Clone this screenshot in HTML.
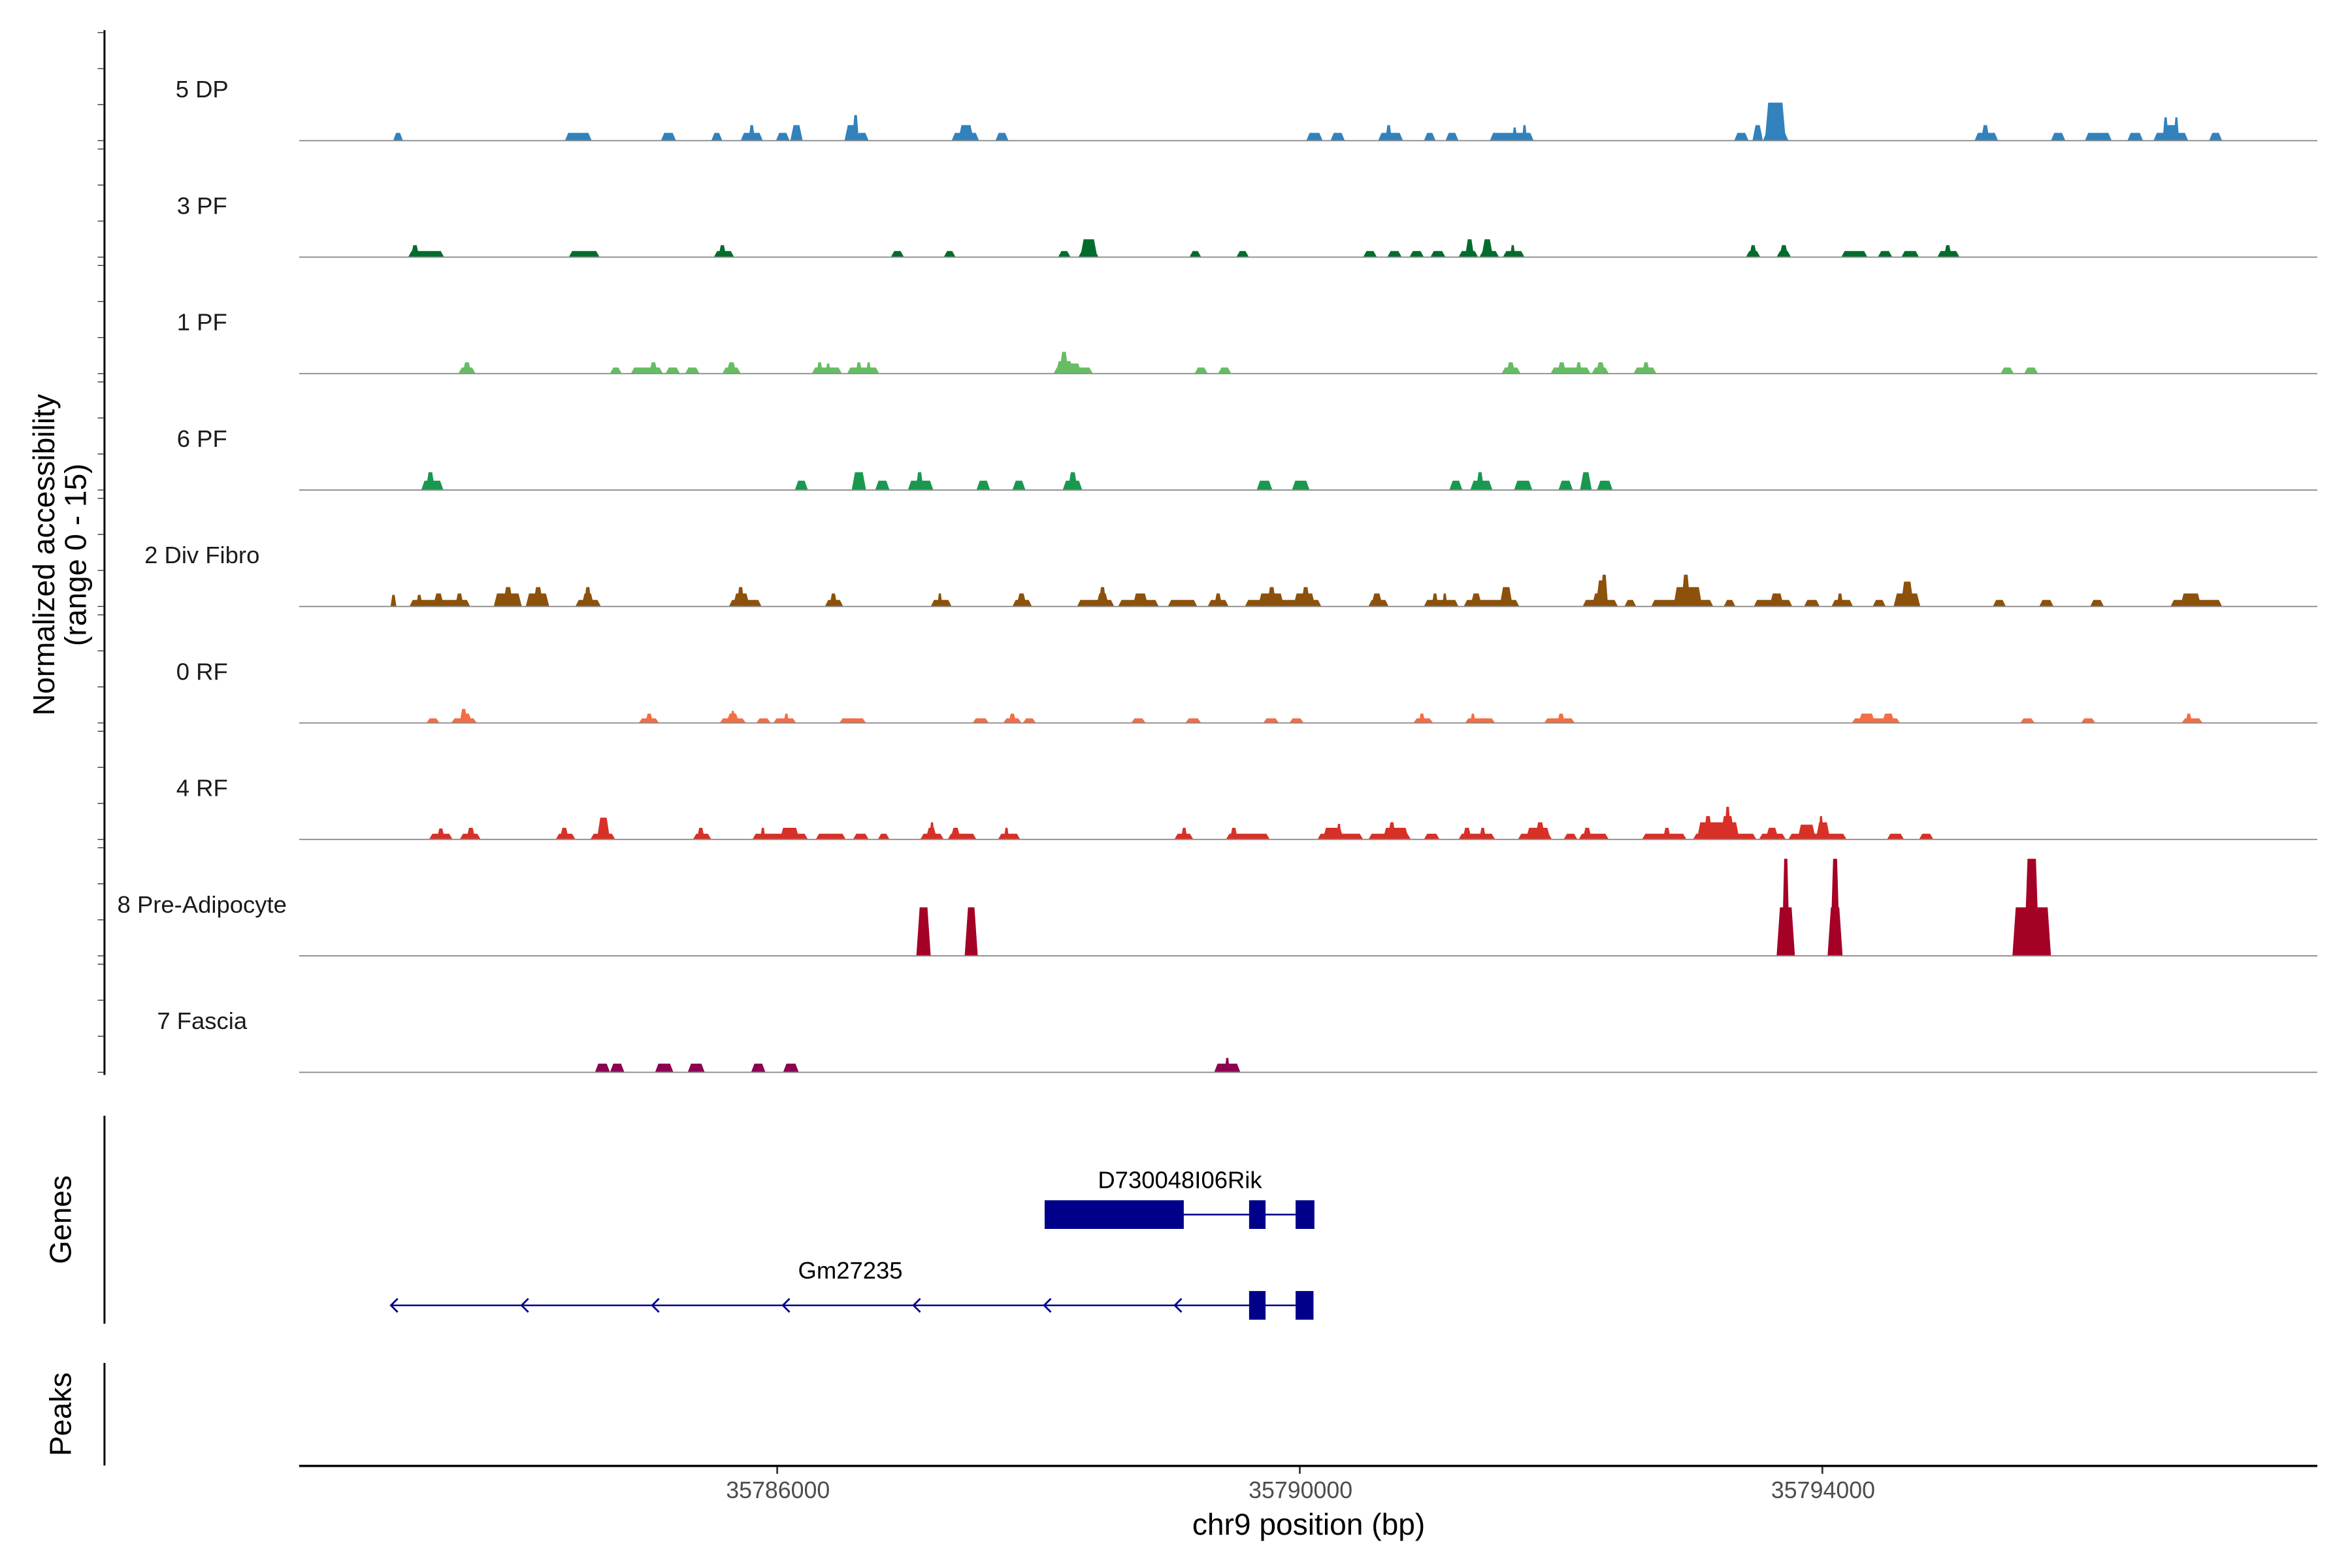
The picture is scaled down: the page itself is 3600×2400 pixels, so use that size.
<!DOCTYPE html>
<html><head><meta charset="utf-8"><style>
html,body{margin:0;padding:0;background:#fff;}
svg{display:block;font-family:"Liberation Sans",Arial,sans-serif;}
</style></head><body>
<svg id="chart" width="3600" height="2400" viewBox="0 0 1560 1040" xmlns="http://www.w3.org/2000/svg">
<g id="tracks"></g>
<g id="genes"></g>
<g id="axes"></g>
</svg>
<script>
const REGION0 = 35782000;
const trackNames = ["5 DP","3 PF","1 PF","6 PF","2 Div Fibro","0 RF","4 RF","8 Pre-Adipocyte","7 Fascia"];
const trackColors = ["#3182bd","#006d2c","#66bd63","#1a9850","#8c510a","#f46d43","#d73027","#a50026","#8e0152"];
// peaks: [start offset bp, end offset bp, value] relative to REGION0
const peaksDP = [[1060,1135,1],[2375,2580,1],[3110,3225,1],[3495,3580,1],[3720,3890,1],[3780,3830,2],[3990,4095,1],[4100,4195,2],[4515,4620,2],[4575,4625,3.3],[4600,4700,1],[5335,5545,1],[5385,5505,2],[5670,5770,1],[8050,8175,1],[8235,8345,1],[8600,8790,1],[8655,8705,2],[8950,9040,1],[9115,9215,1],[9455,9790,1],[9625,9665,1.7],[9700,9740,2],[11325,11435,1],[11465,11545,2],[11545,11740,1],[11560,11720,4.9],[13165,13345,1],[13215,13280,2],[13750,13860,1],[14010,14215,1],[14335,14455,1],[14535,14800,1],[14615,14740,2],[14605,14650,3],[14690,14730,3],[14960,15060,1]];
const peaks3PF = [[1175,1450,0.78],[1195,1260,1.54],[2405,2640,0.78],[3515,3670,0.78],[3550,3610,1.54],[4870,4970,0.78],[5275,5365,0.78],[6150,6245,0.78],[6305,6460,0.78],[6320,6450,2.3],[7155,7245,0.78],[7515,7610,0.78],[8485,8590,0.78],[8670,8780,0.78],[8840,8950,0.78],[9000,9115,0.78],[9215,9365,0.78],[9265,9335,2.3],[9375,9525,0.78],[9390,9480,2.3],[9555,9720,0.78],[9610,9650,1.54],[11415,11525,0.78],[11440,11500,1.54],[11650,11760,0.78],[11670,11740,1.54],[12145,12345,0.78],[12425,12535,0.78],[12605,12740,0.78],[12880,13050,0.78],[12930,12990,1.54]];
const peaks1PF = [[1560,1690,0.78],[1590,1660,1.46],[2720,2810,0.78],[2880,3125,0.78],[3020,3085,1.46],[3145,3255,0.78],[3295,3405,0.78],[3580,3720,0.78],[3610,3690,1.46],[4265,4495,0.78],[4300,4350,1.46],[4370,4410,1.3],[4535,4780,0.78],[4600,4650,1.46],[4680,4720,1.46],[6115,6415,0.78],[6130,6270,1.6],[6160,6230,2.8],[6190,6330,1.3],[7195,7295,0.78],[7375,7475,0.78],[9545,9690,0.78],[9580,9650,1.46],[9920,10225,0.78],[9970,10040,1.46],[10110,10160,1.46],[10235,10365,0.78],[10265,10340,1.46],[10555,10730,0.78],[10620,10680,1.46],[13365,13465,0.78],[13545,13650,0.78]];
const peaks6PF = [[1275,1445,1.2],[1310,1380,2.3],[4135,4235,1.2],[4570,4680,2.3],[4750,4860,1.2],[5000,5195,1.2],[5060,5120,2.3],[5525,5630,1.2],[5800,5900,1.2],[6185,6335,1.2],[6225,6300,2.3],[7670,7790,1.2],[7940,8075,1.2],[9145,9245,1.2],[9305,9475,1.2],[9350,9410,2.3],[9640,9780,1.2],[9980,10090,1.2],[10145,10235,2.3],[10275,10395,1.2]];
const peaksDivFibro = [[1040,1085,1.5],[1185,1650,0.84],[1235,1285,1.5],[1365,1450,1.68],[1535,1600,1.68],[1830,2045,1.68],[1900,1980,2.5],[2075,2255,1.68],[2130,2210,2.5],[2455,2650,0.84],[2500,2600,1.68],[2520,2580,2.5],[3630,3880,0.84],[3660,3790,1.68],[3690,3750,2.5],[4365,4505,0.84],[4400,4460,1.68],[5175,5335,0.84],[5225,5265,1.68],[5800,5950,0.84],[5830,5910,1.68],[6295,6580,0.84],[6440,6540,1.68],[6460,6520,2.5],[6610,6920,0.84],[6720,6840,1.68],[6990,7215,0.84],[7295,7455,0.84],[7345,7405,1.68],[7580,8165,0.84],[7680,7880,1.68],[7750,7820,2.5],[7950,8120,1.68],[8010,8080,2.5],[8525,8680,0.84],[8545,8635,1.68],[8950,9215,0.84],[9010,9060,1.68],[9090,9130,1.68],[9255,9680,0.84],[9305,9395,1.68],[9530,9630,2.5],[10165,10435,0.84],[10235,10355,1.68],[10265,10355,3.36],[10300,10360,4.1],[10485,10575,0.84],[10690,11165,0.84],[10860,11080,2.5],[10920,10990,4.1],[11245,11335,0.84],[11475,11770,0.84],[11595,11705,1.68],[11860,11980,0.84],[12070,12235,0.84],[12110,12160,1.68],[12385,12485,0.84],[12545,12750,1.68],[12600,12700,3.2],[13305,13405,0.84],[13660,13770,0.84],[14050,14155,0.84],[14665,15060,0.84],[14740,14900,1.68]];
const peaks0RF = [[1315,1415,0.59],[1505,1700,0.59],[1575,1665,1.2],[1570,1630,1.8],[2940,3095,0.59],[2990,3050,1.2],[3560,3760,0.59],[3610,3710,1.2],[3640,3680,1.55],[3840,3950,0.59],[3970,4145,0.59],[4050,4090,1.2],[4475,4680,0.59],[5495,5620,0.59],[5730,5870,0.59],[5770,5830,1.2],[5880,5980,0.59],[6710,6820,0.59],[7125,7245,0.59],[7720,7840,0.59],[7920,8030,0.59],[8870,9020,0.59],[8910,8960,1.2],[9265,9495,0.59],[9305,9345,1.2],[9870,10105,0.59],[9970,10030,1.2],[12225,12595,0.59],[12275,12405,1.2],[12455,12555,1.2],[13515,13625,0.59],[13980,14090,0.59],[14750,14910,0.59],[14780,14830,1.2]];
const peaks4RF = [[1335,1515,0.73],[1395,1455,1.4],[1570,1730,0.73],[1620,1690,1.5],[2305,2455,0.73],[2335,2405,1.5],[2570,2760,0.73],[2620,2720,2.8],[3355,3495,0.73],[3385,3445,1.5],[3810,4235,0.73],[3870,3910,1.5],[4020,4170,1.5],[4295,4525,0.73],[4580,4700,0.73],[4770,4860,0.73],[5095,5275,0.73],[5135,5225,1.5],[5165,5205,2.2],[5305,5525,0.73],[5325,5405,1.5],[5690,5860,0.73],[5735,5775,1.5],[7040,7185,0.73],[7090,7140,1.5],[7435,7770,0.73],[7465,7525,1.5],[8135,8485,0.73],[8175,8335,1.5],[8280,8320,2.0],[8525,8850,0.73],[8635,8835,1.5],[8675,8735,2.2],[8950,9070,0.73],[9215,9495,0.73],[9245,9315,1.5],[9375,9425,1.5],[9670,9930,0.73],[9730,9920,1.5],[9800,9880,2.2],[10020,10125,0.73],[10135,10365,0.73],[10165,10235,1.5],[10620,10960,0.73],[10780,10840,1.5],[11010,11495,0.73],[11040,11365,2.2],[11090,11160,3.0],[11220,11330,3.0],[11250,11300,4.2],[11515,11720,0.73],[11565,11665,1.5],[11740,12185,0.73],[11810,11950,1.9],[11950,12060,2.2],[11970,12010,3.0],[12495,12625,0.73],[12740,12850,0.73]];
const peaksPreAdipo = [[5065,5175,6.25],[5435,5535,6.25],[11650,11790,6.25],[11690,11750,12.5],[12040,12155,6.25],[12060,12135,12.5],[13455,13750,6.25],[13545,13660,12.5]];
const peaksFascia = [[2605,2720,1.12],[2720,2830,1.12],[3065,3205,1.12],[3315,3445,1.12],[3800,3910,1.12],[4045,4165,1.12],[7345,7545,1.12],[7425,7465,1.85]];
const trackPeaks = [peaksDP,peaks3PF,peaks1PF,peaks6PF,peaksDivFibro,peaks0RF,peaks4RF,peaksPreAdipo,peaksFascia];
// genes
const geneNames = ["D730048I06Rik","Gm27235"];
const geneStarts = [35788047,35783043];
const geneEnds = [35790112,35790112];
const geneExons = [[[35788047,35789112],[35789612,35789738],[35789968,35790112]],[[35789612,35789738],[35789968,35790105]]];
const xTicks = [35786000,35790000,35794000];
const xTickLabels = ["35786000","35790000","35794000"];

const NS="http://www.w3.org/2000/svg";
function mk(tag,attrs,parent){const e=document.createElementNS(NS,tag);for(const k in attrs)e.setAttribute(k,attrs[k]);parent.appendChild(e);return e;}
function xs(bp){return 515.5+(bp-35786000)*0.08665;}
const PX_PER_UNIT=5.15;
function ys(v,base){return base-v*PX_PER_UNIT;}
const X0=198.4,X1=1537;
const tracksG=document.getElementById('tracks');
const axesG=document.getElementById('axes');
const genesG=document.getElementById('genes');

const la=mk('line',{x1:69.3,y1:20,x2:69.3,y2:713,stroke:'#000','stroke-width':1.3},axesG);



trackNames.forEach((name,i)=>{
  const base=93.3+i*77.24;
  const g=mk('g',{},tracksG);
  
  
  for(let k=0;k<4;k++){
    const t=mk('line',{x1:64.8,x2:69.3,y1:base-k*23.9,y2:base-k*23.9,stroke:'#333','stroke-width':0.6},axesG);
    
    
  }
  const lab=mk('text',{x:134,y:base-28.7,'text-anchor':'middle','font-size':15.8,fill:'#1a1a1a'},g);
  lab.textContent=name;
  
  
  trackPeaks[i].forEach(p=>{
    const s=xs(REGION0+p[0]),e=xs(REGION0+p[1]);
    const w=e-s;const sl=Math.min(w*0.3,2.2);
    const top=ys(p[2],base);
    const poly=mk('polygon',{points:`${s},${base} ${s+sl},${top} ${e-sl},${top} ${e},${base}`,fill:trackColors[i]},g);
    
    
  });
  const bl=mk('line',{x1:X0,x2:X1,y1:base,y2:base,stroke:'#8c8c8c','stroke-width':0.8},g);
  
  
});

const yt=mk('text',{transform:'translate(36,368) rotate(-90)','text-anchor':'middle','font-size':20,fill:'#000'},axesG);


const t1=mk('tspan',{x:0,y:0},yt);t1.textContent='Normalized accessibility';
const t2=mk('tspan',{x:0,y:21},yt);t2.textContent='(range 0 - 15)';

const ga=mk('line',{x1:69.3,y1:740,x2:69.3,y2:878,stroke:'#000','stroke-width':1.3},axesG);


const gt=mk('text',{transform:'translate(47,809) rotate(-90)','text-anchor':'middle','font-size':20},axesG);
gt.textContent='Genes';


const geneY=[805.6,865.8];
const labY=[788,848];
const labX=[782.6,564];
geneNames.forEach((n,i)=>{
  const g=mk('g',{},genesG);
  
  
  mk('line',{x1:xs(geneStarts[i]),x2:xs(geneEnds[i])-1,y1:geneY[i],y2:geneY[i],stroke:'#00008b','stroke-width':1.1},g);
  geneExons[i].forEach(ex=>{
    const r=mk('rect',{x:xs(ex[0]),y:geneY[i]-9.5,width:xs(ex[1])-xs(ex[0]),height:19,fill:'#00008b'},g);
    
    
  });
  if(i===1){
    for(let bp=geneStarts[i];bp<35789500;bp+=1000){
      const ax=xs(bp);
      mk('polyline',{points:`${ax+4.5},${geneY[i]-4.5} ${ax},${geneY[i]} ${ax+4.5},${geneY[i]+4.5}`,fill:'none',stroke:'#00008b','stroke-width':1.2},g);
    }
  }
  const tl=mk('text',{x:labX[i],y:labY[i],'text-anchor':'middle','font-size':15.8},g);
  tl.textContent=n;
  
  
});

const pa=mk('line',{x1:69.3,y1:904,x2:69.3,y2:972,stroke:'#000','stroke-width':1.3},axesG);


const pt=mk('text',{transform:'translate(47,938) rotate(-90)','text-anchor':'middle','font-size':20},axesG);
pt.textContent='Peaks';



const xa=mk('line',{x1:X0,x2:X1,y1:972.3,y2:972.3,stroke:'#000','stroke-width':1.5},axesG);


xTicks.forEach((t,i)=>{
  const tk=mk('line',{x1:xs(t),x2:xs(t),y1:973,y2:977.5,stroke:'#333','stroke-width':1.2},axesG);
  
  
  const tl=mk('text',{x:xs(t)+0.5,y:993.6,'text-anchor':'middle','font-size':15.5,fill:'#4d4d4d'},axesG);
  tl.textContent=xTickLabels[i];
  
  
});
const xt=mk('text',{x:868,y:1018,'text-anchor':'middle','font-size':20},axesG);
xt.textContent='chr9 position (bp)';


</script>
</body></html>
